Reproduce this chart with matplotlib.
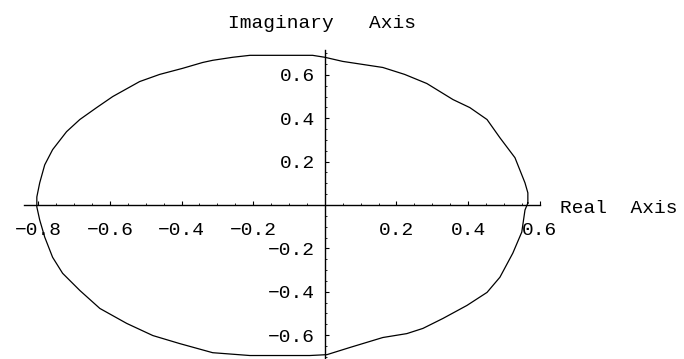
import numpy as np
import matplotlib
matplotlib.use("Agg")
import matplotlib.pyplot as plt
from matplotlib.ticker import FixedLocator, FixedFormatter, MultipleLocator

# points along the response curve, traced counterclockwise from the right edge
re_vals = [0.567, 0.567, 0.559, 0.531, 0.489, 0.453, 0.405, 0.358, 0.285, 0.223,
           0.162, 0.050, 0.0, -0.034, -0.209, -0.257, -0.313, -0.341, -0.397, -0.461,
           -0.517, -0.592, -0.637, -0.684, -0.721, -0.760, -0.782, -0.796, -0.804, -0.804,
           -0.796, -0.782, -0.760, -0.732, -0.684, -0.628, -0.553, -0.480, -0.405, -0.313,
           -0.209, -0.042, 0.006, 0.070, 0.162, 0.229, 0.274, 0.330, 0.397, 0.453,
           0.489, 0.525, 0.550, 0.559, 0.567]
im_vals = [0.009, 0.056, 0.102, 0.218, 0.310, 0.394, 0.449, 0.486, 0.560, 0.602,
           0.634, 0.662, 0.681, 0.690, 0.690, 0.681, 0.667, 0.657, 0.630, 0.602,
           0.569, 0.500, 0.449, 0.394, 0.338, 0.255, 0.185, 0.102, 0.037, -0.009,
           -0.069, -0.148, -0.241, -0.315, -0.394, -0.477, -0.546, -0.602, -0.639, -0.681,
           -0.694, -0.694, -0.690, -0.657, -0.611, -0.593, -0.569, -0.523, -0.463, -0.403,
           -0.333, -0.222, -0.125, -0.023, 0.009]

x_ticks = [-0.8, -0.6, -0.4, -0.2, 0.2, 0.4, 0.6]
x_labels = ["\u22120.8", "\u22120.6", "\u22120.4", "\u22120.2", "0.2", "0.4", "0.6"]
y_ticks = [-0.6, -0.4, -0.2, 0.2, 0.4, 0.6]
y_labels = ["\u22120.6", "\u22120.4", "\u22120.2", "0.2", "0.4", "0.6"]

font = "Liberation Mono"

fig = plt.figure(figsize=(6.84, 3.59), dpi=100)
ax = fig.add_axes([0.035, -0.003, 0.754, 0.864])

ax.plot(re_vals, im_vals, color="black", lw=0.9)

ax.set_xlim(-0.84, 0.6)
ax.set_ylim(-0.715, 0.715)

for side in ["top", "right"]:
    ax.spines[side].set_visible(False)
ax.spines["left"].set_position(("data", 0))
ax.spines["bottom"].set_position(("data", 0))
for side in ["left", "bottom"]:
    ax.spines[side].set_linewidth(1.0)

ax.xaxis.set_major_locator(FixedLocator(x_ticks))
ax.xaxis.set_major_formatter(FixedFormatter(x_labels))
ax.yaxis.set_major_locator(FixedLocator(y_ticks))
ax.yaxis.set_major_formatter(FixedFormatter(y_labels))
ax.xaxis.set_minor_locator(MultipleLocator(0.05))
ax.yaxis.set_minor_locator(MultipleLocator(0.05))

ax.tick_params(which="major", direction="in", length=3, width=0.8, labelsize=14)
ax.tick_params(which="minor", direction="in", length=1.5, width=0.6)
ax.tick_params(axis="x", which="major", pad=12)
ax.tick_params(axis="y", which="major", pad=7)
for lbl in ax.get_xticklabels() + ax.get_yticklabels():
    lbl.set_family(font)

fig.text(322 / 684, 1 - 28 / 359, "Imaginary   Axis", ha="center",
         va="baseline", fontsize=14, family=font)
fig.text(560 / 684, 1 - 213 / 359, "Real  Axis", ha="left",
         va="baseline", fontsize=14, family=font)

fig.savefig("out.png", dpi=100)
